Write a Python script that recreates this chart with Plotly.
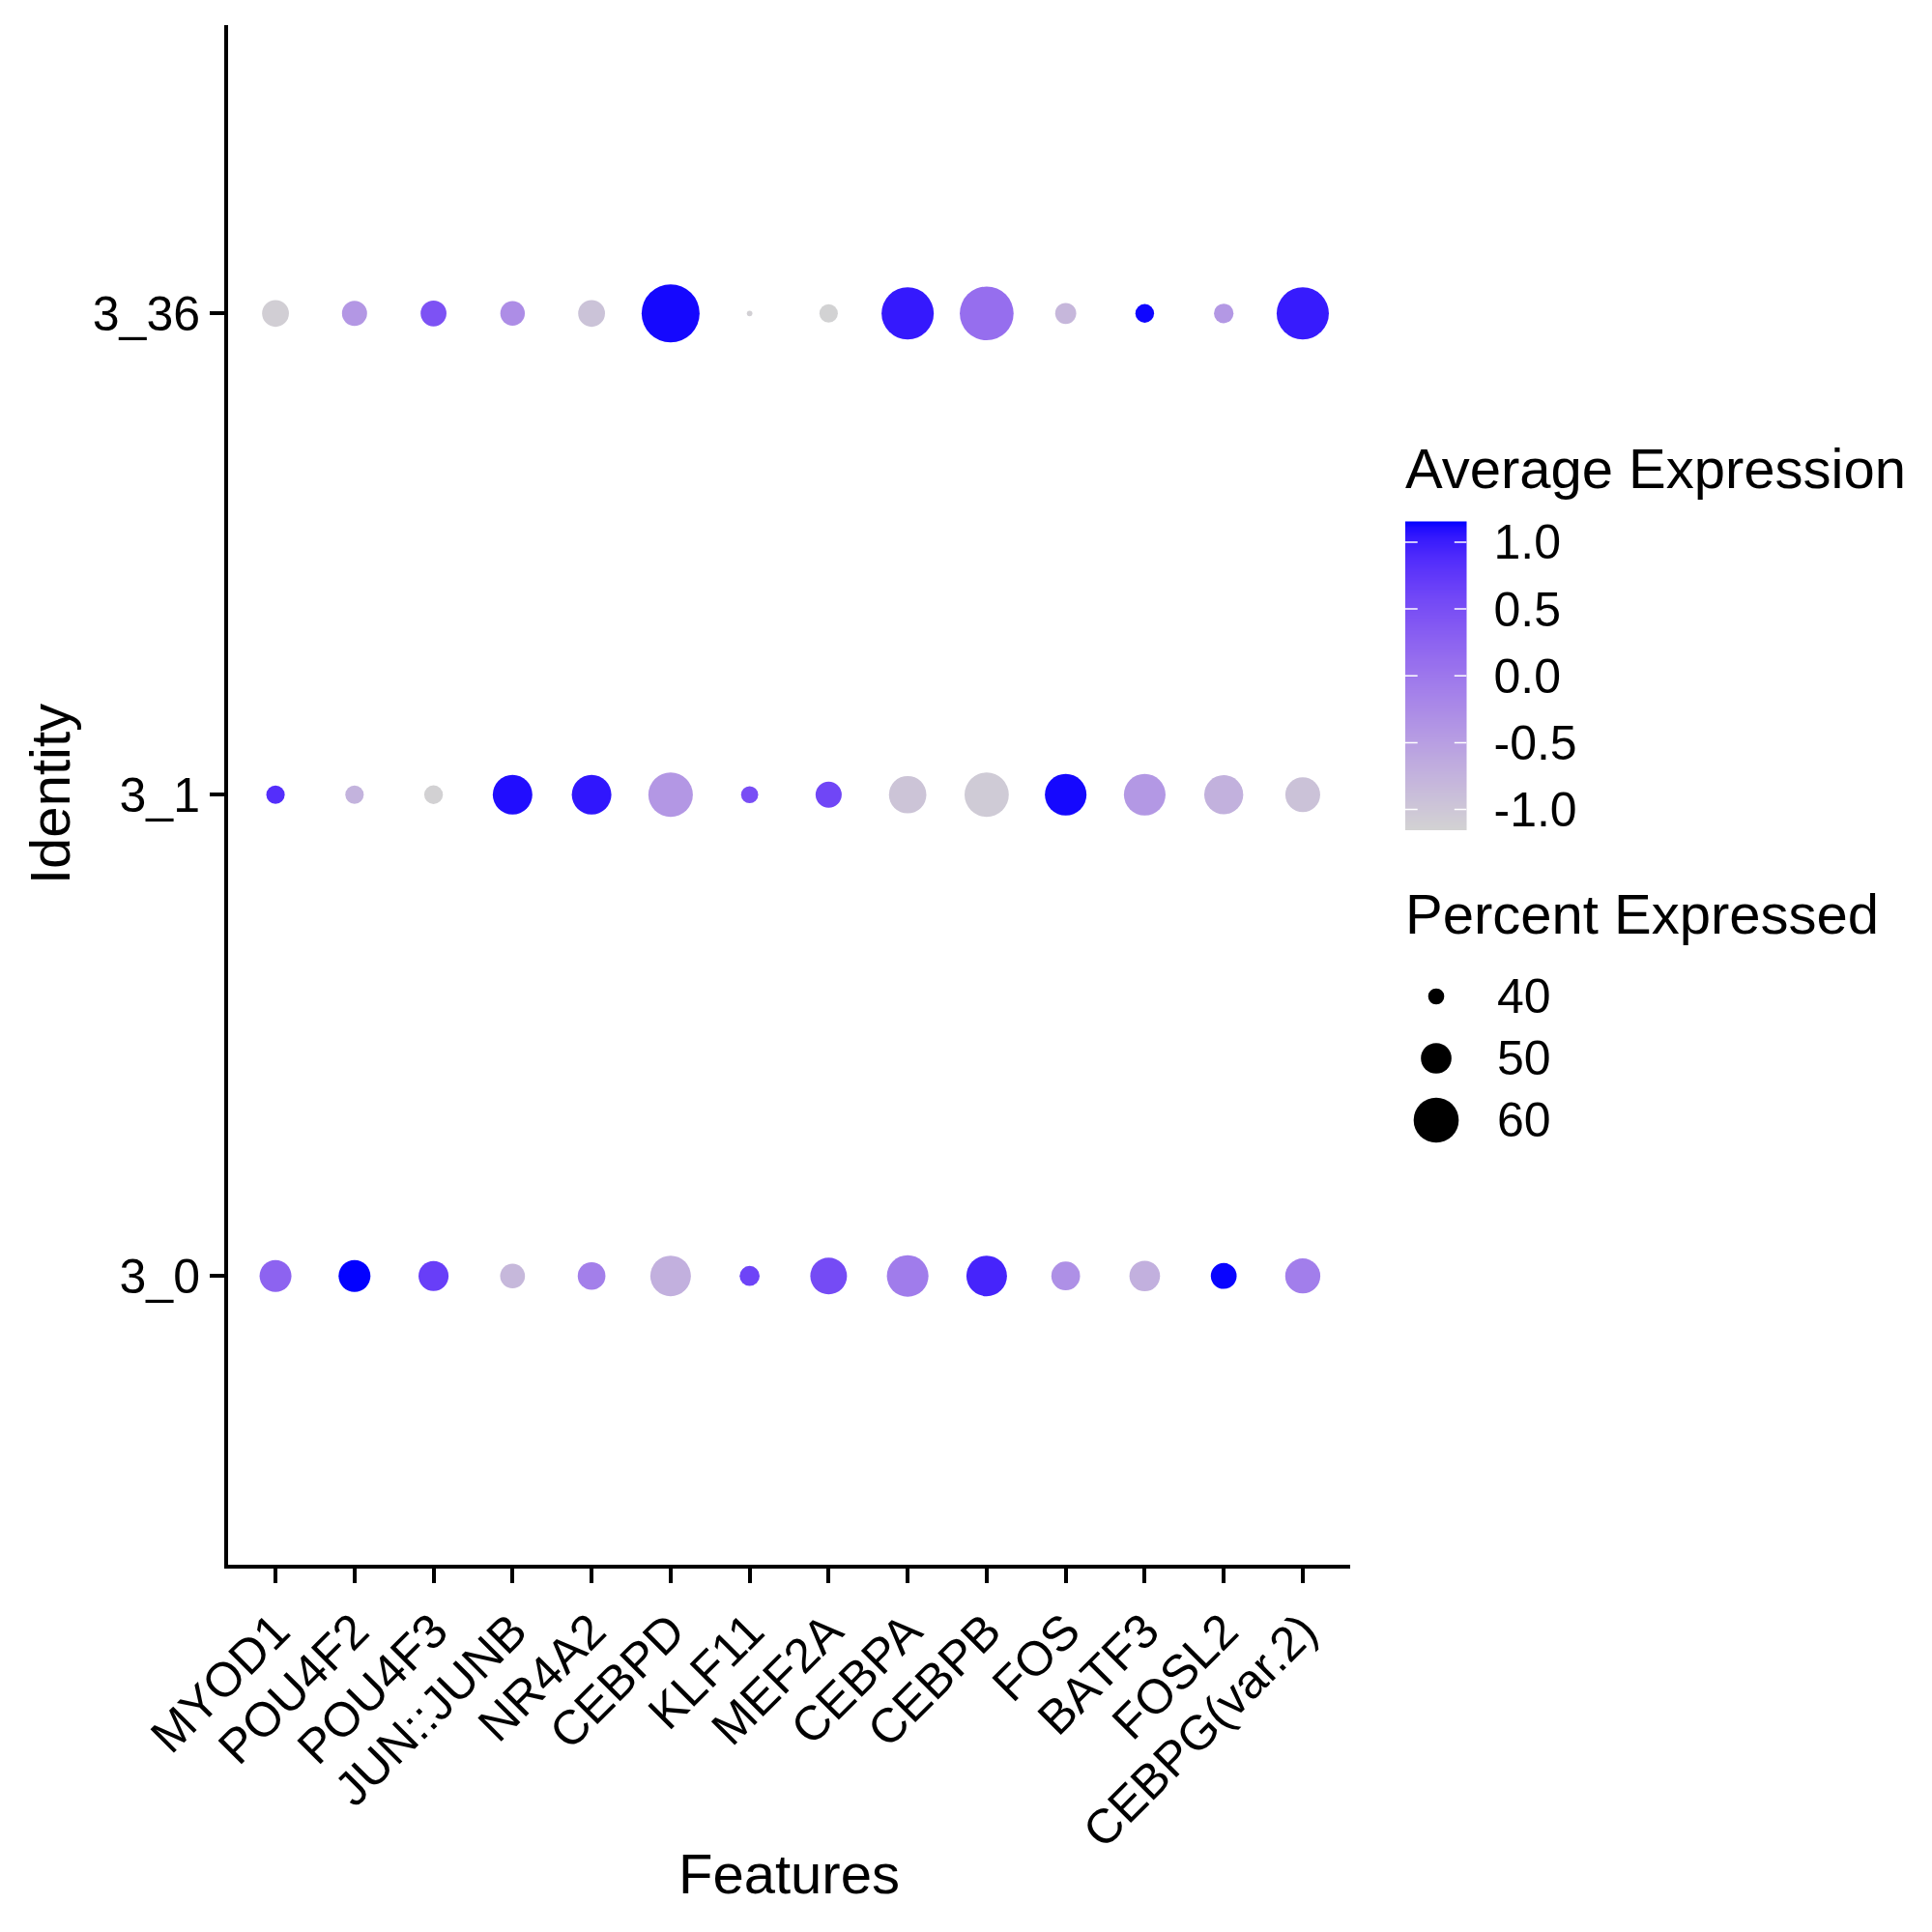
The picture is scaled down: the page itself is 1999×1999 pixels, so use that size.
import numpy as np
import plotly.graph_objects as go

# ---------------- data ----------------
features = ["MYOD1", "POU4F2", "POU4F3", "JUN::JUNB", "NR4A2", "CEBPD", "KLF11",
            "MEF2A", "CEBPA", "CEBPB", "FOS", "BATF3", "FOSL2", "CEBPG(var.2)"]
identities = ["3_0", "3_1", "3_36"]

pct_3_0 = [50.9, 50.9, 49.6, 46.0, 48.0, 56.9, 42.7, 54.2, 57.6, 56.9, 48.7, 50.0, 46.7, 53.1]
pct_3_1 = [41.6, 41.6, 41.8, 56.2, 56.2, 59.6, 40.7, 46.9, 54.7, 59.4, 57.6, 57.6, 55.8, 52.9]
pct_3_36 = [47.4, 46.2, 46.7, 45.8, 47.4, 68.9, 32.7, 41.6, 64.9, 66.0, 43.4, 41.8, 42.4, 64.9]

avg_3_0 = [0.25, 1.15, 0.68, -0.82, -0.10, -0.72, 0.62, 0.54, -0.06, 0.94, -0.31, -0.72, 1.14, -0.08]
avg_3_1 = [0.85, -0.75, -1.13, 1.10, 1.05, -0.40, 0.50, 0.60, -0.97, -1.05, 1.12, -0.41, -0.73, -0.94]
avg_3_36 = [-1.10, -0.40, 0.45, -0.28, -0.95, 1.12, -1.12, -1.14, 1.03, 0.11, -0.81, 1.13, -0.41, 1.02]

color_ticks = [-1.0, -0.5, 0.0, 0.5, 1.0]
color_tick_labels = ["-1.0", "-0.5", "0.0", "0.5", "1.0"]
size_breaks = [40, 50, 60]

# ---------------- style helpers ----------------
W = 1999
FONT = "Liberation Sans, Arial, sans-serif"
TICK_SIZE = 50
TITLE_SIZE = 58
CMIN, CMAX = -1.1547, 1.1547


def size_of(p):
    return 1.5 * (p - 28.9)


def _lin(c):
    c = c / 255.0
    return c / 12.92 if c <= 0.04045 else ((c + 0.055) / 1.055) ** 2.4


def _gam(c):
    c = min(1.0, max(0.0, c))
    return 12.92 * c if c <= 0.0031308 else 1.055 * c ** (1 / 2.4) - 0.055


WHITE = (0.95047, 1.0, 1.08883)


def _f(t):
    return t ** (1 / 3) if t > 0.008856 else 7.787 * t + 16 / 116


def _finv(t):
    return t ** 3 if t ** 3 > 0.008856 else (t - 16 / 116) / 7.787


def rgb2lab(rgb):
    r, g, b = [_lin(v) for v in rgb]
    X = 0.4124 * r + 0.3576 * g + 0.1805 * b
    Y = 0.2126 * r + 0.7152 * g + 0.0722 * b
    Z = 0.0193 * r + 0.1192 * g + 0.9505 * b
    fx, fy, fz = _f(X / WHITE[0]), _f(Y / WHITE[1]), _f(Z / WHITE[2])
    return (116 * fy - 16, 500 * (fx - fy), 200 * (fy - fz))


def lab2rgb(lab):
    L, a, b = lab
    fy = (L + 16) / 116
    fx = fy + a / 500
    fz = fy - b / 200
    X, Y, Z = WHITE[0] * _finv(fx), WHITE[1] * _finv(fy), WHITE[2] * _finv(fz)
    r = 3.2406 * X - 1.5372 * Y - 0.4986 * Z
    g = -0.9689 * X + 1.8758 * Y + 0.0415 * Z
    bb = 0.0557 * X - 0.2040 * Y + 1.0570 * Z
    return tuple(int(round(255 * _gam(v))) for v in (r, g, bb))


lo, hi = rgb2lab((211, 211, 211)), rgb2lab((0, 0, 255))
colorscale = []
for t in np.linspace(0, 1, 41):
    lab = tuple(lo[i] + (hi[i] - lo[i]) * t for i in range(3))
    r, g, b = lab2rgb(lab)
    colorscale.append([float(t), f"rgb({r},{g},{b})"])

fig = go.Figure()

# ---------------- main dots ----------------
for ident, pct, avg in zip(identities, [pct_3_0, pct_3_1, pct_3_36], [avg_3_0, avg_3_1, avg_3_36]):
    fig.add_trace(go.Scatter(
        x=features, y=[ident] * len(features), mode="markers",
        marker=dict(size=[size_of(p) for p in pct], color=avg, colorscale=colorscale,
                    cmin=CMIN, cmax=CMAX, showscale=False, line=dict(width=0), opacity=1),
        cliponaxis=False, showlegend=False, xaxis="x", yaxis="y"))

# ---------------- colour bar (drawn as a heatmap) ----------------
cb_vals = np.linspace(CMIN, CMAX, 300)
fig.add_trace(go.Heatmap(x=[0], y=cb_vals, z=[[v] for v in cb_vals], colorscale=colorscale,
                         zmin=CMIN, zmax=CMAX, showscale=False, xaxis="x3", yaxis="y3",
                         hoverinfo="skip"))

shapes = []
for v in color_ticks:
    for x0, x1 in [(-0.5, -0.3), (0.3, 0.5)]:
        shapes.append(dict(type="line", xref="x3", yref="y3", x0=x0, x1=x1, y0=v, y1=v,
                           line=dict(color="white", width=1.5)))

# ---------------- size legend ----------------
fig.add_trace(go.Scatter(x=[0] * len(size_breaks), y=size_breaks, mode="markers",
                         marker=dict(size=[size_of(b) for b in size_breaks], color="#000000",
                                     opacity=1, line=dict(width=0)),
                         cliponaxis=False, showlegend=False, xaxis="x4", yaxis="y4"))

annotations = []
for b in size_breaks:
    annotations.append(dict(x=1547 / W, xref="paper", y=b, yref="y4", text=str(b),
                            showarrow=False, xanchor="left", yanchor="middle",
                            font=dict(family=FONT, size=TICK_SIZE, color="black")))

title_font = dict(family=FONT, size=TITLE_SIZE, color="black")
annotations += [
    dict(x=1452 / W, y=1 - 484 / W, xref="paper", yref="paper", text="Average Expression",
         showarrow=False, xanchor="left", yanchor="middle", font=title_font),
    dict(x=1452 / W, y=1 - 945 / W, xref="paper", yref="paper", text="Percent Expressed",
         showarrow=False, xanchor="left", yanchor="middle", font=title_font),
    dict(x=816 / W, y=1 - 1938 / W, xref="paper", yref="paper", text="Features",
         showarrow=False, xanchor="center", yanchor="middle", font=title_font),
    dict(x=51 / W, y=1 - 822 / W, xref="paper", yref="paper", text="Identity", textangle=-90,
         showarrow=False, xanchor="center", yanchor="middle", font=title_font),
]

axis_common = dict(showline=True, linecolor="black", linewidth=4, ticks="outside", ticklen=15,
                   tickwidth=4, tickcolor="black", showgrid=False, zeroline=False,
                   automargin=False,
                   tickfont=dict(family=FONT, size=TICK_SIZE, color="black"))

fig.update_layout(
    width=W, height=W, autosize=False,
    margin=dict(l=0, r=0, t=0, b=0, autoexpand=False),
    paper_bgcolor="white", plot_bgcolor="white",
    showlegend=False,
    xaxis=dict(domain=[236 / W, 1397 / W], type="category", categoryorder="array",
               categoryarray=features, range=[-0.6, len(features) - 0.4], tickangle=-45,
               anchor="y", **axis_common),
    yaxis=dict(domain=[1 - 1619 / W, 1 - 25.5 / W], type="category", categoryorder="array",
               categoryarray=identities, range=[-0.6, len(identities) - 0.4], anchor="x",
               **axis_common),
    xaxis3=dict(domain=[1454 / W, 1517.5 / W], range=[-0.5, 0.5], visible=False, anchor="y3",
                automargin=False),
    yaxis3=dict(domain=[1 - 859 / W, 1 - 539.5 / W], range=[CMIN, CMAX], side="right",
                anchor="x3", tickvals=color_ticks, ticktext=color_tick_labels, ticks="",
                showline=False, showgrid=False, zeroline=False, ticklabelstandoff=27,
                automargin=False,
                tickfont=dict(family=FONT, size=TICK_SIZE, color="black")),
    xaxis4=dict(domain=[1466 / W, 1506 / W], range=[-1, 1], visible=False, anchor="y4",
                automargin=False),
    yaxis4=dict(domain=[1 - 1159 / W, 1 - 1031 / W], range=[60, 40], visible=False,
                anchor="x4", automargin=False),
    shapes=shapes,
    annotations=annotations,
)

fig.write_html("out.html")
